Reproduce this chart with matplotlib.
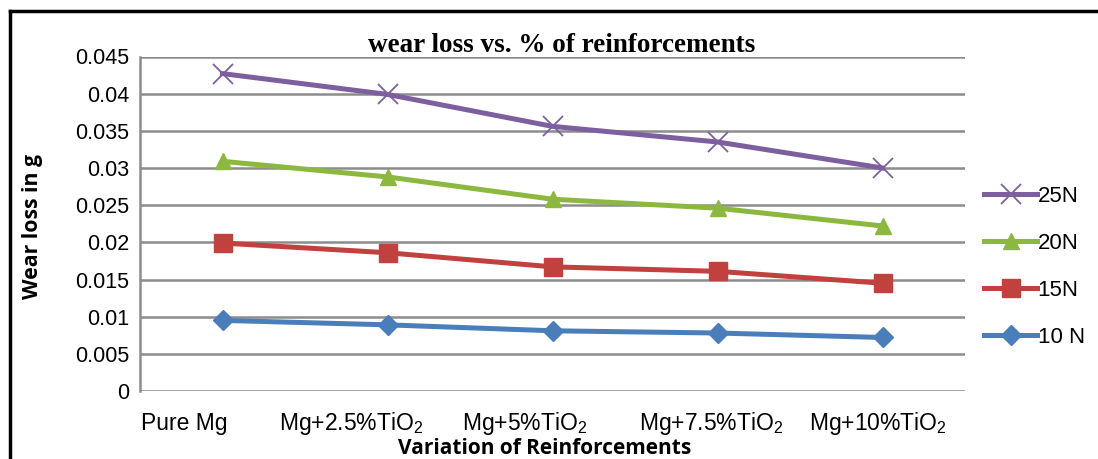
import matplotlib
matplotlib.use("Agg")
import matplotlib.pyplot as plt
from matplotlib.lines import Line2D

plt.rcParams['mathtext.fontset'] = 'custom'
plt.rcParams['mathtext.rm'] = 'Liberation Sans'
plt.rcParams['mathtext.it'] = 'Liberation Sans'
plt.rcParams['mathtext.bf'] = 'Liberation Sans'

categories = ['Pure Mg', 'Mg+2.5%TiO$_2$', 'Mg+5%TiO$_2$', 'Mg+7.5%TiO$_2$', 'Mg+10%TiO$_2$']
load_25N = [0.0427, 0.0399, 0.0356, 0.0335, 0.0300]
load_20N = [0.0309, 0.0288, 0.0258, 0.0246, 0.0222]
load_15N = [0.0199, 0.0186, 0.0167, 0.0161, 0.0145]
load_10N = [0.0095, 0.0089, 0.0081, 0.0078, 0.0072]
y_ticks = [0, 0.005, 0.01, 0.015, 0.02, 0.025, 0.03, 0.035, 0.04, 0.045]
y_tick_labels = ['0', '0.005', '0.01', '0.015', '0.02', '0.025', '0.03', '0.035', '0.04', '0.045']

# horizontal nudges of the category labels (in category units)
label_shift = [-0.23, -0.22, -0.17, -0.04, -0.03]

W, H = 1098, 459
fig = plt.figure(figsize=(W / 100, H / 100), dpi=100)
ax = fig.add_axes([140 / W, 1 - 391 / H, (965 - 140) / W, (391 - 56.5) / H])

x = list(range(len(categories)))
series = [
    ('25N', load_25N, '#7D5FA0', 'x', 14, 1.3),
    ('20N', load_20N, '#8CB840', '^', 11.5, 1.0),
    ('15N', load_15N, '#C0413D', 's', 12.5, 1.0),
    ('10 N', load_10N, '#4A7EBB', 'D', 10, 1.0),
]
handles = []
for name, vals, col, mk, ms, mew in series:
    h, = ax.plot(x, vals, color=col, lw=3.6, marker=mk, ms=ms, mec=col, mfc=col,
                 mew=mew, label=name, zorder=3)
    handles.append(h)

ax.set_xlim(-0.5, 4.5)
ax.set_ylim(0, 0.045)
ax.set_yticks(y_ticks)
ax.set_yticklabels(y_tick_labels, fontfamily='Liberation Sans', fontsize=15.5)
ax.set_xticks(x)
ax.set_xticklabels([])
for xi, lab, dx in zip(x, categories, label_shift):
    ax.annotate(lab, xy=(xi + dx, 0), xycoords=('data', 'axes fraction'),
                xytext=(0, -28), textcoords='offset points', ha='center', va='baseline',
                fontfamily='Liberation Sans', fontsize=16.5)
ax.tick_params(axis='both', length=0)
ax.tick_params(axis='y', pad=8)
ax.yaxis.grid(True, color='#8c8c8c', lw=1.8)
ax.set_axisbelow(True)
for s in ['top', 'right', 'bottom']:
    ax.spines[s].set_visible(False)
ax.spines['left'].set_color('#8c8c8c')
ax.spines['left'].set_linewidth(1.8)

fig.text(562 / W, 1 - 52 / H, 'wear loss vs. % of reinforcements', ha='center',
         va='baseline', fontfamily='Liberation Serif', fontweight='bold', fontsize=19.5)
fig.text(33 / W, 1 - 226 / H, 'Wear loss in g', rotation=90, ha='center', va='center',
         fontfamily='Open Sans', fontweight='bold', fontsize=15.3)
fig.text(545 / W, 1 - 449 / H, 'Variation of Reinforcements', ha='center', va='center',
         fontfamily='Open Sans', fontweight='bold', fontsize=15)

leg = fig.legend(handles=handles, loc='upper left', bbox_to_anchor=(975 / W, 1 - 177 / H),
                 frameon=False, prop={'family': 'Liberation Sans', 'size': 16},
                 handlelength=2.4, handletextpad=0.02, labelspacing=1.17,
                 borderaxespad=0)

# outer frame
fig.add_artist(Line2D([10 / W, 10 / W], [0, 1 - 11 / H], color='black', lw=2.5,
                      transform=fig.transFigure))
fig.add_artist(Line2D([10 / W, 1], [1 - 11 / H, 1 - 11 / H], color='black', lw=2.5,
                      transform=fig.transFigure))

fig.savefig('out.png', dpi=100)
